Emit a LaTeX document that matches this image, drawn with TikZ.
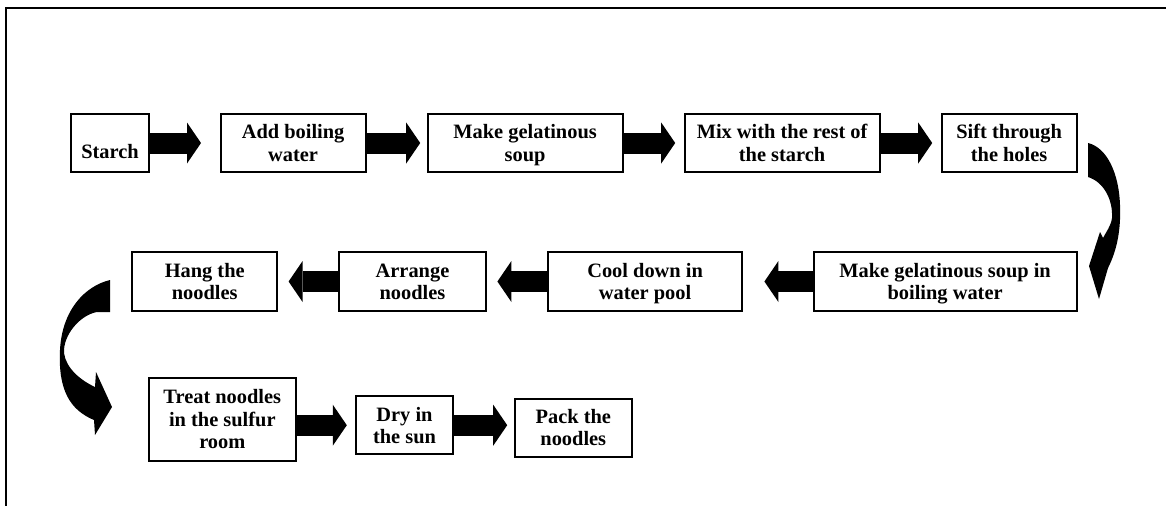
\documentclass[tikz,border=0pt]{standalone}
\usepackage{fontspec}
\setmainfont{Liberation Serif}
\usetikzlibrary{positioning, arrows.meta}
\tikzset{
	stepbox/.style={
		draw,
		line width=1pt,
		align=center,
		inner sep=1pt,
		minimum height=29pt,
		text depth=0pt,
		font={\bfseries\fontsize{10.2}{11.2}\selectfont}
	},
	blockarrow/.style={
		line width=10.5pt,
		-{Triangle[width=20.5pt, length=7pt, line width=0pt]}
	},
	bendarrow/.style={
		fill=black
	}
}

\begin{document}
\begin{tikzpicture}[x=0.5pt, y=-0.5pt, node distance=30pt]
	\useasboundingbox (0,0) rectangle (1166,505);
	\draw[line width=1pt] (6,520) -- (6,8) -- (1180,8);

	% Row 1: starch to sifting
	\node[stepbox, minimum width=39pt, text height=15pt] (starch) at (110,143) {Starch};
	\node[stepbox, minimum width=72.5pt, right=34.8pt of starch] (addwater) {Add boiling\\water};
	\node[stepbox, minimum width=97.5pt, right=of addwater] (soup) {Make gelatinous\\soup};
	\node[stepbox, minimum width=97.5pt, right=of soup] (mix) {Mix with the rest of\\the starch};
	\node[stepbox, minimum width=67.5pt, right=of mix] (sift) {Sift through\\the holes};

	\draw[blockarrow] (starch.east) -- ([xshift=-9.3pt]addwater.west);
	\draw[blockarrow] (addwater.east) -- ([xshift=-3.2pt]soup.west);
	\draw[blockarrow] (soup.east) -- ([xshift=-4.2pt]mix.west);
	\draw[blockarrow] (mix.east) -- ([xshift=-4.2pt]sift.west);

	% Row 2: runs right to left
	\node[stepbox, minimum width=131.5pt, minimum height=29.5pt, below=39pt of sift.south east, anchor=north east] (boil) {Make gelatinous soup in\\boiling water};
	\node[stepbox, minimum width=97.3pt, minimum height=29.5pt, left=34.6pt of boil] (cool) {Cool down in\\water pool};
	\node[stepbox, minimum width=73.3pt, minimum height=29.5pt, left=of cool] (arrange) {Arrange\\noodles};
	\node[stepbox, minimum width=72.5pt, minimum height=29.5pt, left=of arrange] (hang) {Hang the\\noodles};

	\draw[blockarrow] (boil.west) -- ([xshift=10.5pt]cool.east);
	\draw[blockarrow] (cool.west) -- ([xshift=5.3pt]arrange.east);
	\draw[blockarrow] (arrange.west) -- ([xshift=5.2pt]hang.east);

	% Row 3
	\node[stepbox, minimum width=73.3pt, minimum height=41.5pt] (sulfur) at (222.3,419.2) {Treat noodles\\in the sulfur\\room};
	\node[stepbox, minimum width=48.3pt, right=29.3pt of sulfur, yshift=-3pt] (dry) {Dry in\\the sun};
	\node[stepbox, minimum width=58.5pt, right=of dry, yshift=-1.2pt] (pack) {Pack the\\noodles};

	\draw[blockarrow] (sulfur.east |- dry.west) -- ([xshift=-4.2pt]dry.west);
	\draw[blockarrow] (dry.east) -- ([xshift=-3.3pt]pack.west |- dry.east);

	% bent arrows between the rows
	\fill[bendarrow] (1088,143) -- (1088,177) .. controls (1104,182) and (1113,200) .. (1112,218)
		.. controls (1111,226) and (1106,232) .. (1103,238) -- (1100,232) -- (1089,266) -- (1099,299)
		-- (1108,268) .. controls (1117,250) and (1121,230) .. (1120,205)
		.. controls (1119,175) and (1108,148) .. (1088,143) -- cycle;
	\fill[bendarrow] (110,280) .. controls (85,286) and (62,310) .. (60,350)
		.. controls (58,390) and (70,410) .. (94,420) -- (95,435) -- (112,407) -- (96,372) -- (95,387)
		.. controls (80,380) and (66,368) .. (64,353) .. controls (63,335) and (80,315) .. (97,312)
		-- (110,312) -- cycle;
\end{tikzpicture}
\end{document}
